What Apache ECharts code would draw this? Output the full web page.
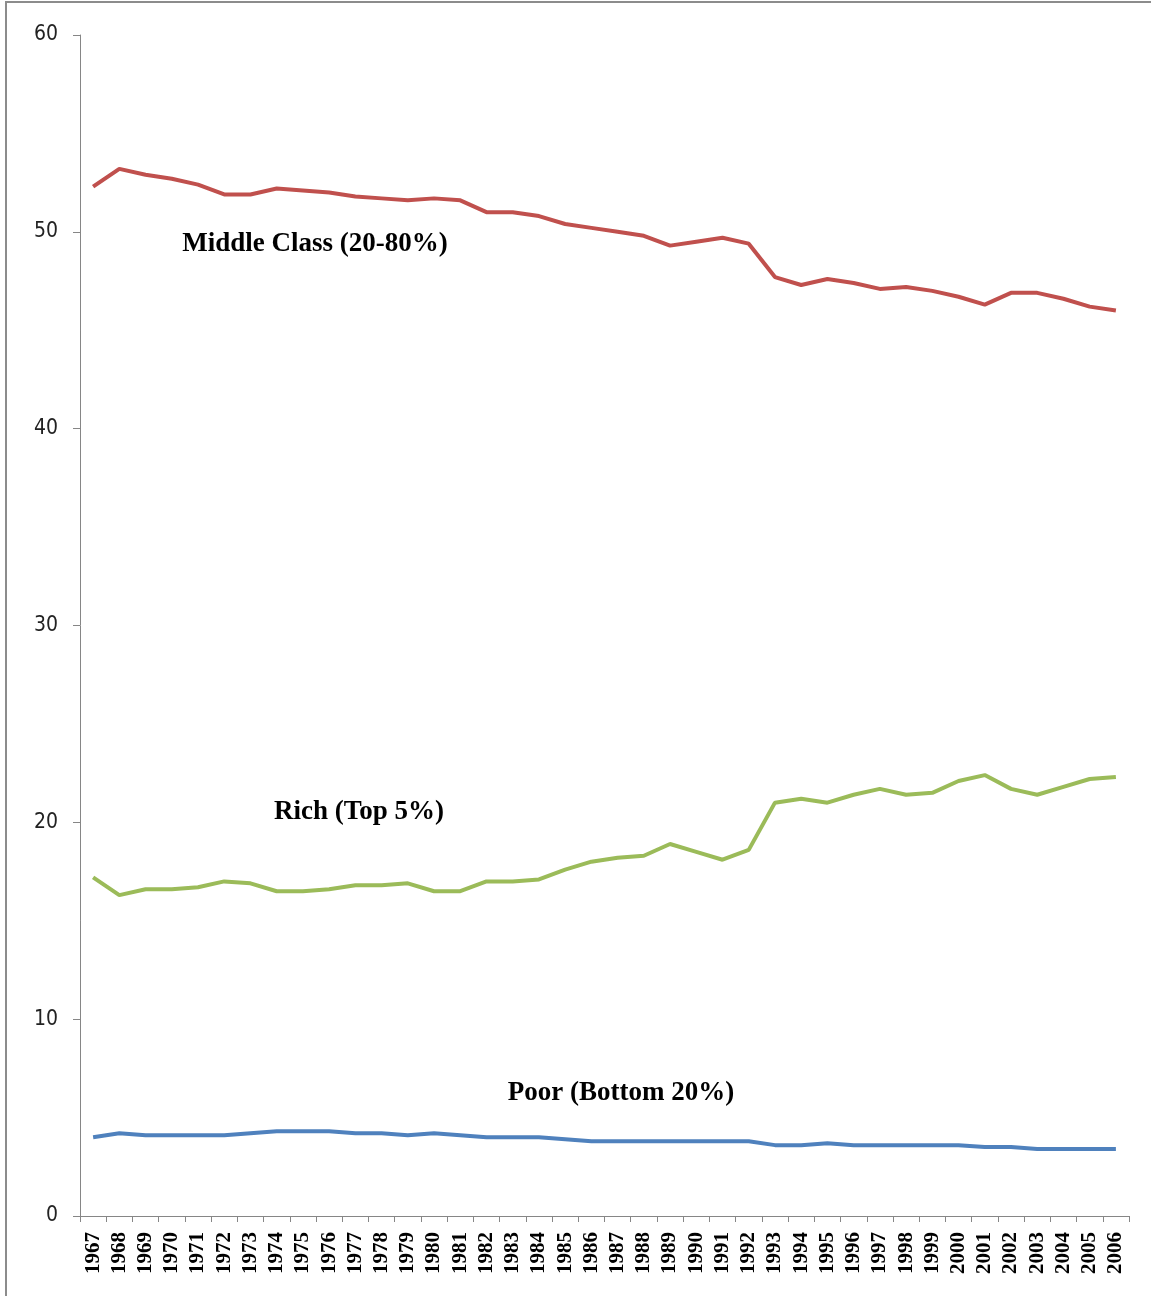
<!DOCTYPE html>
<html lang="en">
<head>
    <meta charset="UTF-8">
    <script src="https://cdn.jsdelivr.net/npm/echarts@6/dist/echarts.min.js"></script>
    <title>Income shares</title>
    <style>
        html, body { margin: 0; padding: 0; background: #fff; }
    </style>
</head>
<body>
    <div id="income-chart" style="width: 1151px;height:1296px;"></div>
</body>
<script type="text/javascript">
    var years = [];
    for (var y = 1967; y <= 2006; y++) years.push(String(y));

    var middleClass = [52.3, 53.2, 52.9, 52.7, 52.4, 51.9, 51.9, 52.2, 52.1, 52.0,
                       51.8, 51.7, 51.6, 51.7, 51.6, 51.0, 51.0, 50.8, 50.4, 50.2,
                       50.0, 49.8, 49.3, 49.5, 49.7, 49.4, 47.7, 47.3, 47.6, 47.4,
                       47.1, 47.2, 47.0, 46.7, 46.3, 46.9, 46.9, 46.6, 46.2, 46.0];
    var rich = [17.2, 16.3, 16.6, 16.6, 16.7, 17.0, 16.9, 16.5, 16.5, 16.6,
                16.8, 16.8, 16.9, 16.5, 16.5, 17.0, 17.0, 17.1, 17.6, 18.0,
                18.2, 18.3, 18.9, 18.5, 18.1, 18.6, 21.0, 21.2, 21.0, 21.4,
                21.7, 21.4, 21.5, 22.1, 22.4, 21.7, 21.4, 21.8, 22.2, 22.3];
    var poor = [4.0, 4.2, 4.1, 4.1, 4.1, 4.1, 4.2, 4.3, 4.3, 4.3,
                4.2, 4.2, 4.1, 4.2, 4.1, 4.0, 4.0, 4.0, 3.9, 3.8,
                3.8, 3.8, 3.8, 3.8, 3.8, 3.8, 3.6, 3.6, 3.7, 3.6,
                3.6, 3.6, 3.6, 3.6, 3.5, 3.5, 3.4, 3.4, 3.4, 3.4];

    var chart = echarts.init(document.getElementById('income-chart'));
    var labelFont = {fontFamily: '"Liberation Serif", "DejaVu Serif", serif', fontSize: 27, fontWeight: 'bold', fill: '#000'};

    chart.setOption({
        animation: false,
        backgroundColor: '#fff',
        grid: {left: 80, right: 22, top: 35, bottom: 80},
        xAxis: {
            type: 'category',
            data: years,
            boundaryGap: true,
            axisLine: {lineStyle: {color: '#868686', width: 1}},
            axisTick: {show: true, length: 6, alignWithLabel: false, lineStyle: {color: '#868686'}},
            axisLabel: {
                interval: 0,
                rotate: 90,
                margin: 16,
                color: '#000',
                fontFamily: '"Liberation Serif", serif',
                fontWeight: 'bold',
                fontSize: 21
            }
        },
        yAxis: {
            type: 'value',
            min: 0,
            max: 60,
            interval: 10,
            axisLine: {show: true, lineStyle: {color: '#868686', width: 1}},
            axisTick: {show: true, length: 7, lineStyle: {color: '#868686'}},
            splitLine: {show: false},
            axisLabel: {
                margin: 22,
                color: '#222',
                fontFamily: '"Liberation Sans Narrow", "DejaVu Sans Condensed", sans-serif',
                fontSize: 21
            }
        },
        series: [
            {name: 'Middle Class (20-80%)', type: 'line', data: middleClass, showSymbol: false,
             lineStyle: {color: '#C0504D', width: 4}},
            {name: 'Rich (Top 5%)', type: 'line', data: rich, showSymbol: false,
             lineStyle: {color: '#9BBB59', width: 4}},
            {name: 'Poor (Bottom 20%)', type: 'line', data: poor, showSymbol: false,
             lineStyle: {color: '#4F81BD', width: 4}}
        ],
        graphic: [
            // frame around the chart
            {type: 'rect', shape: {x: 6, y: 2, width: 1150, height: 1300},
             style: {fill: 'none', stroke: '#8c8c8c', lineWidth: 2}, silent: true},
            {type: 'text', x: 315, y: 244, style: Object.assign({text: 'Middle Class (20-80%)', align: 'center', verticalAlign: 'middle'}, labelFont)},
            {type: 'text', x: 359, y: 812, style: Object.assign({text: 'Rich (Top 5%)', align: 'center', verticalAlign: 'middle'}, labelFont)},
            {type: 'text', x: 621, y: 1093, style: Object.assign({text: 'Poor (Bottom 20%)', align: 'center', verticalAlign: 'middle'}, labelFont)}
        ]
    });
</script>
</html>
